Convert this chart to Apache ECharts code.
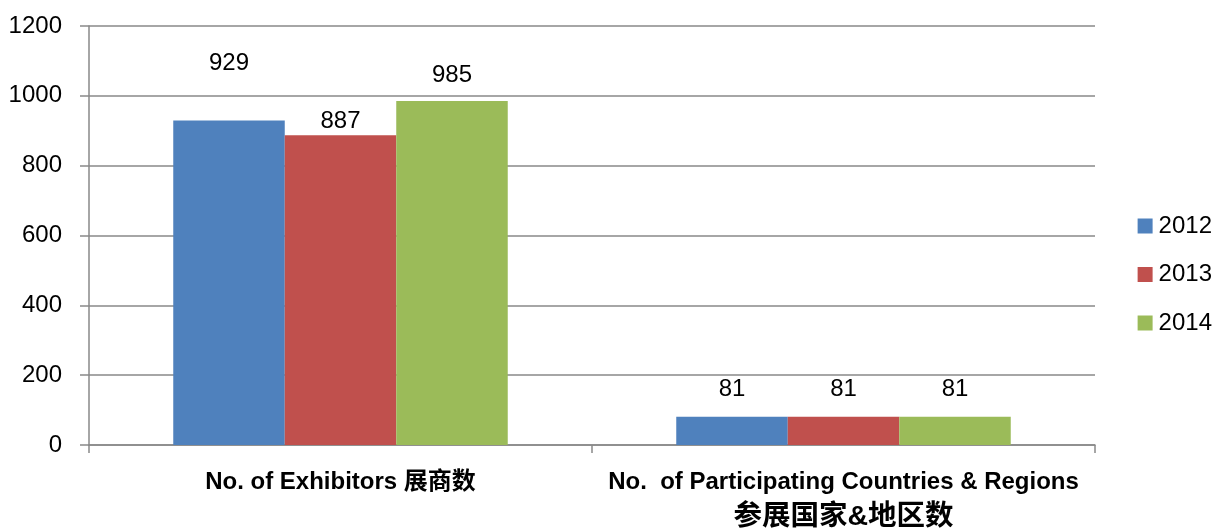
<!DOCTYPE html>
<html><head><meta charset="utf-8">
<script src="https://cdn.jsdelivr.net/npm/echarts@6/dist/echarts.min.js"></script>
<style>html,body{margin:0;padding:0;background:#fff}#c{width:1219px;height:530px}</style>
</head><body><div id="c"></div>
<script>
const categories = ['No. of Exhibitors 展商数', 'No.  of Participating Countries & Regions\n参展国家&地区数'];
const seriesNames = ['2012', '2013', '2014'];
const values2012 = [929, 81];
const values2013 = [887, 81];
const values2014 = [985, 81];
const yTicks = [0, 200, 400, 600, 800, 1000, 1200];

const colors = ['#4F81BD', '#C0504D', '#9BBB59'];
const labelLift = [[-40, -10], [3, -10], [-9, -10]];
const font = '"Liberation Sans", Arial, "Noto Sans CJK SC", sans-serif';
const allValues = [values2012, values2013, values2014];

const chart = echarts.init(document.getElementById('c'));
chart.setOption({
  animation: false,
  grid: { left: 89, right: 124, top: 26, bottom: 85, containLabel: false, outerBoundsMode: 'none' },
  legend: {
    orient: 'vertical', right: 2, top: 209,
    itemWidth: 15, itemHeight: 15, itemGap: 24.5,
    icon: 'rect',
    textStyle: { fontSize: 24, fontFamily: font, color: '#000', padding: [0, 0, 0, 1] },
    data: seriesNames
  },
  xAxis: {
    type: 'category', data: categories,
    axisLine: { lineStyle: { color: '#898989', width: 1.5 } },
    axisTick: { show: true, length: 8, lineStyle: { color: '#898989', width: 1.5 } },
    axisLabel: {
      interval: 0, fontSize: 24, fontWeight: 'bold', fontFamily: font, color: '#000', lineHeight: 35, margin: 20,
      formatter: v => v.split('\n').map((s, i) => i ? '{c|' + s + '}' : '{a|' + s + '}').join('\n'),
      rich: {
        a: { fontSize: 24, fontWeight: 'bold', fontFamily: font, color: '#000', lineHeight: 35 },
        c: { fontSize: 28.5, fontWeight: 'bold', fontFamily: font, color: '#000', lineHeight: 35 }
      }
    }
  },
  yAxis: {
    type: 'value', min: yTicks[0], max: yTicks[yTicks.length - 1], interval: 200,
    axisLine: { show: true, lineStyle: { color: '#898989', width: 1.5 } },
    axisTick: { show: true, length: 9, lineStyle: { color: '#898989', width: 1.5 } },
    splitLine: { lineStyle: { color: '#898989', width: 1.5 } },
    axisLabel: { fontSize: 24, fontFamily: font, color: '#000', margin: 27, formatter: v => String(v) }
  },
  series: seriesNames.map((name, i) => ({
    name, type: 'bar', barGap: '0%', barCategoryGap: '33.5%',
    itemStyle: { color: colors[i] },
    data: allValues[i].map((v, j) => ({
      value: v,
      label: { show: true, position: 'top', offset: [0, labelLift[i][j]], fontSize: 24, fontFamily: font, color: '#000' }
    }))
  }))
});
</script></body></html>
